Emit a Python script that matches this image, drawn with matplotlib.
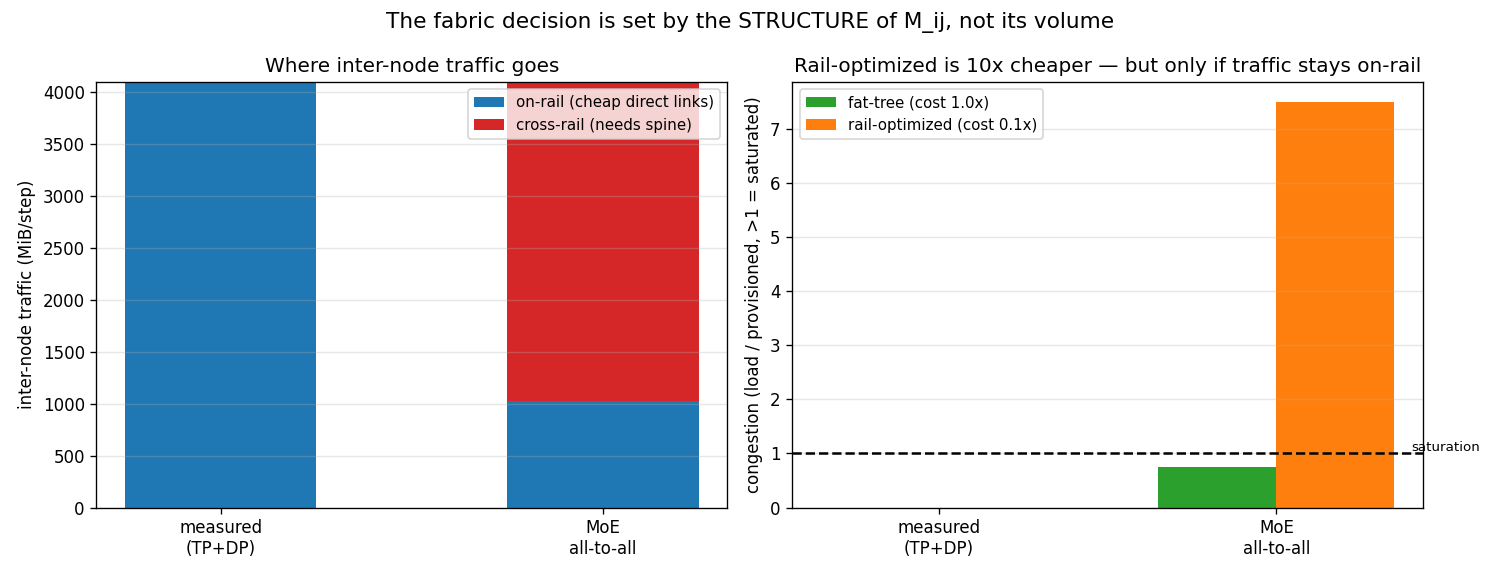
import numpy as np
import matplotlib
matplotlib.use('Agg')
import matplotlib.pyplot as plt

# data
scenarios = ['measured\n(TP+DP)', 'MoE\nall-to-all']
on_rail = [4096, 1024]       # MiB/step
cross_rail = [0, 3072]       # MiB/step
fat_tree_cong = [0.0, 0.75]
rail_opt_cong = [0.0, 7.5]

x = np.arange(len(scenarios))

fig, (ax1, ax2) = plt.subplots(1, 2, figsize=(12.5, 4.8), dpi=120)

# left: where the traffic goes
ax1.bar(x, on_rail, width=0.5, color='#1f77b4', label='on-rail (cheap direct links)')
ax1.bar(x, cross_rail, width=0.5, bottom=on_rail, color='#d62728', label='cross-rail (needs spine)')
ax1.set_xticks(x)
ax1.set_xticklabels(scenarios)
ax1.set_ylabel('inter-node traffic (MiB/step)')
ax1.set_title('Where inter-node traffic goes')
ax1.set_ylim(0, max(np.add(on_rail, cross_rail)))
ax1.legend(loc='upper right', fontsize=9)
ax1.grid(axis='y', alpha=0.3)

# right: congestion per fabric
w = 0.35
ax2.bar(x - w / 2, fat_tree_cong, width=w, color='#2ca02c', label='fat-tree (cost 1.0x)')
ax2.bar(x + w / 2, rail_opt_cong, width=w, color='#ff7f0e', label='rail-optimized (cost 0.1x)')
ax2.axhline(1.0, color='black', linestyle='--')
ax2.text(1.4, 1.05, 'saturation', fontsize=8)
ax2.set_xticks(x)
ax2.set_xticklabels(scenarios)
ax2.set_ylabel('congestion (load / provisioned, >1 = saturated)')
ax2.set_title('Rail-optimized is 10x cheaper \u2014 but only if traffic stays on-rail')
ax2.legend(loc='upper left', fontsize=9)
ax2.grid(axis='y', alpha=0.3)

fig.suptitle('The fabric decision is set by the STRUCTURE of M_ij, not its volume', fontsize=13)
plt.tight_layout()
plt.savefig('out.png')
